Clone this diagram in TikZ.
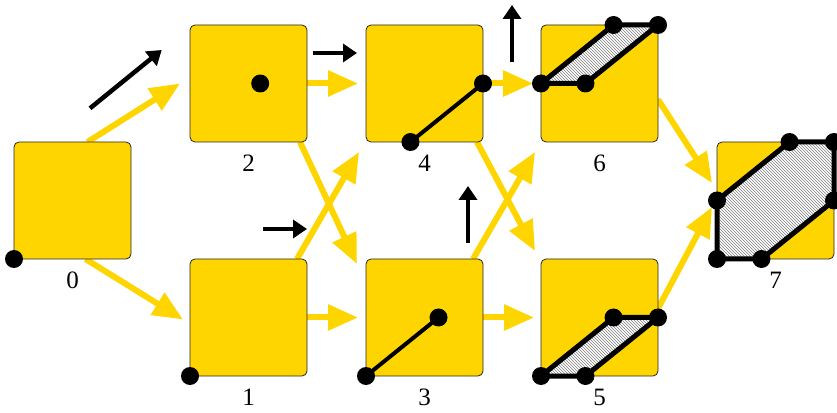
\documentclass[tikz,border=0pt]{standalone}
\usepackage{fontspec}
\setmainfont{Liberation Serif}
\usepackage{tikz}
\usetikzlibrary{positioning,arrows.meta,patterns,backgrounds}
\definecolor{gold}{RGB}{255,213,0}
\newcommand{\vtx}[1]{\fill #1 circle[radius=9pt];}
\tikzset{cell/.style={draw=black!85, line width=0.8pt, fill=gold, rounded corners=5pt, minimum size=117pt, inner sep=0pt, outer sep=0pt},
  num/.style={font=\fontsize{25}{30}\selectfont, inner sep=0pt},
  flow/.style={draw=gold, line width=6pt, -{Triangle[length=30pt, width=25pt]}},
  move/.style={line width=4.5pt, -{Triangle[length=14pt, width=18pt]}},
  seg/.style={line width=4pt},
  hull/.style={fill=white, postaction={pattern=north west lines, pattern color=gray}, postaction={draw, line width=5pt, line join=round}}}

\begin{document}
\begin{tikzpicture}[x=1pt, y=1pt]
\useasboundingbox (0,0) rectangle (837,412);
\node[cell] (b0) at (72.5,211.5) {};
\node[cell, above right=0pt and 59pt of b0] (b2) {};
\node[cell, below right=0pt and 59pt of b0] (b1) {};
\node[cell, right=59pt of b2] (b4) {};
\node[cell, right=59pt of b1] (b3) {};
\node[cell, right=58pt of b4] (b6) {};
\node[cell, right=58pt of b3] (b5) {};
\node[cell, below right=0pt and 59pt of b6] (b7) {};
\foreach \b in {0,...,7}
  \node[num, below=13pt of b\b] (n\b) {\b};

\begin{scope}[shift={(b0.south west)}, x=117pt, y=117pt]
\vtx{(0,0)}
\end{scope}
\begin{scope}[shift={(b1.south west)}, x=117pt, y=117pt]
\vtx{(0,0)}
\end{scope}
\begin{scope}[shift={(b2.south west)}, x=117pt, y=117pt]
\vtx{(0.6,0.5)}
\end{scope}
\begin{scope}[shift={(b3.south west)}, x=117pt, y=117pt]
\draw[seg] (0,0) -- (0.62,0.5);
\vtx{(0,0)} \vtx{(0.62,0.5)}
\end{scope}
\begin{scope}[shift={(b4.south west)}, x=117pt, y=117pt]
\draw[seg] (0.38,0) -- (1,0.5);
\vtx{(0.38,0)} \vtx{(1,0.5)}
\end{scope}
\begin{scope}[shift={(b5.south west)}, x=117pt, y=117pt]
\path[hull] (0,0) -- (0.38,0) -- (1,0.5) -- (0.62,0.5) -- cycle;
\vtx{(0,0)} \vtx{(0.38,0)} \vtx{(1,0.5)} \vtx{(0.62,0.5)}
\end{scope}
\begin{scope}[shift={(b6.south west)}, x=117pt, y=117pt]
\path[hull] (0,0.5) -- (0.38,0.5) -- (1,1) -- (0.62,1) -- cycle;
\vtx{(0,0.5)} \vtx{(0.38,0.5)} \vtx{(1,1)} \vtx{(0.62,1)}
\end{scope}
\begin{scope}[shift={(b7.south west)}, x=117pt, y=117pt]
\path[hull] (0,0) -- (0.38,0) -- (1,0.5) -- (1,1) -- (0.62,1) -- (0,0.5) -- cycle;
\vtx{(0,0)} \vtx{(0.38,0)} \vtx{(1,0.5)} \vtx{(1,1)} \vtx{(0.62,1)} \vtx{(0,0.5)}
\end{scope}

\begin{scope}[on background layer]
\draw[flow] ([xshift=15pt]b0.north) -- ([xshift=-10pt]b2.west);
\draw[flow] ([xshift=13pt]b0.south) -- ([shift={(-7pt,-2pt)}]b1.west);
\draw[flow] (b2.east) -- ([xshift=-8pt]b4.west);
\draw[flow] (b1.east) -- ([xshift=-8pt]b3.west);
\draw[flow] (b4.east) -- ([xshift=-8pt]b6.west);
\draw[flow] (b3.east) -- ([xshift=-7pt]b5.west);
\draw[flow] ([xshift=-7pt]b2.south east) -- ([shift={(-9pt,-5pt)}]b3.north west);
\draw[flow] ([xshift=-10pt]b1.north east) -- ([shift={(-7pt,-10pt)}]b4.south west);
\draw[flow] ([xshift=-6pt]b4.south east) -- ([shift={(-6pt,8pt)}]b5.north west);
\draw[flow] ([xshift=-10pt]b3.north east) -- ([shift={(-6pt,-10pt)}]b6.south west);
\draw[flow] ([yshift=-16pt]b6.east) -- ([shift={(-5pt,-41pt)}]b7.north west);
\draw[flow] ([yshift=9pt]b5.east) -- ([shift={(-5pt,-65pt)}]b7.north west);
\end{scope}

\coordinate (d02s) at (90,303.7);
\coordinate (d02e) at (161.7,362);
\coordinate (d24s) at (313,359);
\coordinate (d24e) at (357,359);
\coordinate (d14s) at (263,183);
\coordinate (d14e) at (307,183);
\coordinate (d36s) at (468,168.7);
\coordinate (d36e) at (468,226);
\coordinate (d46s) at (512,350.3);
\coordinate (d46e) at (512,407);
\draw[move] (d02s) -- (d02e);
\draw[move] (d24s) -- (d24e);
\draw[move] (d14s) -- (d14e);
\draw[move] (d36s) -- (d36e);
\draw[move] (d46s) -- (d46e);
\end{tikzpicture}
\end{document}
